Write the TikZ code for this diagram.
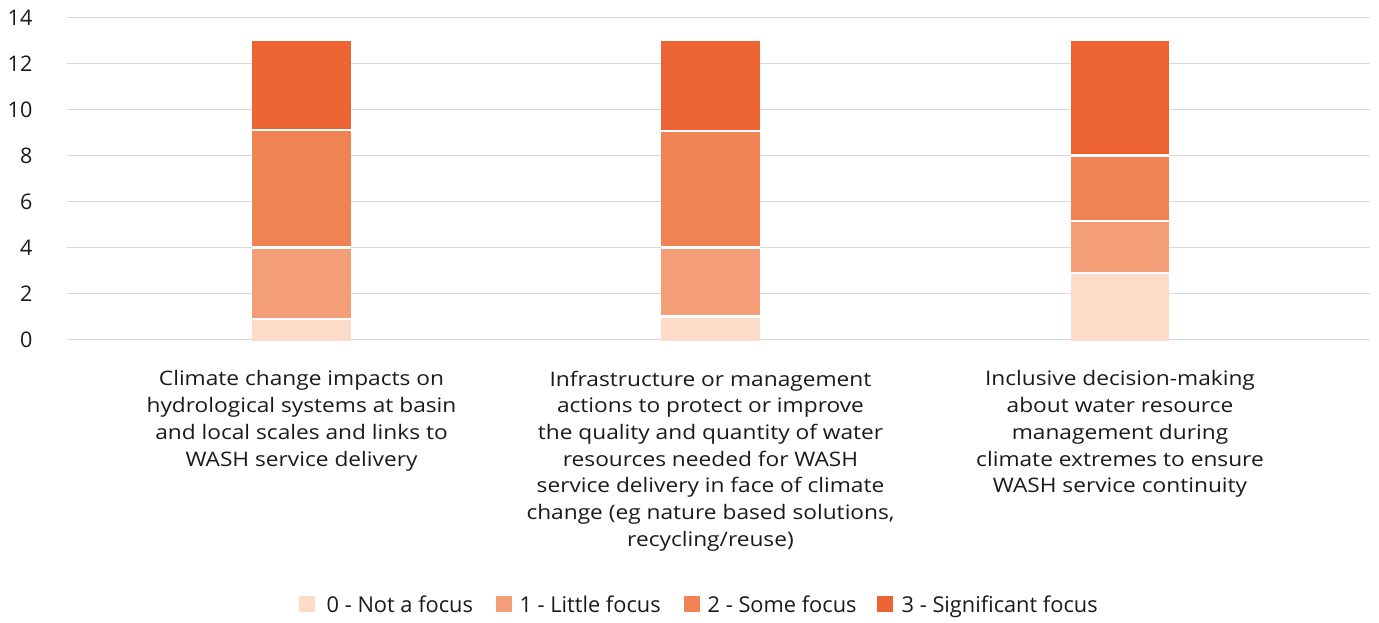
\documentclass[tikz,border=0pt]{standalone}
\usepackage{fontspec}
\setmainfont{Open Sans}
\newfontfamily\catfont{Open Sans}[FakeStretch=1.135]
\definecolor{cz}{HTML}{FCDCC8}
\definecolor{co}{HTML}{F39E76}
\definecolor{ct}{HTML}{EF8354}
\definecolor{cth}{HTML}{EC6432}
\definecolor{gridc}{HTML}{D9D9D9}
\definecolor{txt}{HTML}{1A1A1A}
\tikzset{
  gridline/.style={draw=gridc, line width=1.4pt},
  ticklab/.style={anchor=east, inner sep=0pt, font=\fontsize{21.5}{24}\selectfont, text=txt},
  catlab/.style={anchor=north, inner sep=0pt, align=center, font=\catfont\fontsize{20}{26.7}\selectfont, text=txt},
  legsq/.style={minimum width=16pt, minimum height=15.5pt, inner sep=0pt},
  leglab/.style={anchor=base west, inner sep=0pt, font=\fontsize{21.8}{24}\selectfont, text=txt},
}
\newcommand\stackbar[7]{%
  \fill[cz]  (#1,340.5) rectangle (#2,#3);
  \fill[co]  (#1,#3) rectangle (#2,#4);
  \fill[ct]  (#1,#4) rectangle (#2,#5);
  \fill[cth] (#1,#5) rectangle (#2,#6);
  \draw[white, line width=2.2pt] (#1,#3) -- (#2,#3) (#1,#4) -- (#2,#4) (#1,#5) -- (#2,#5);
  \coordinate (#7) at ({(#1+#2)/2},339.5);
}
\begin{document}
\begin{tikzpicture}[x=1pt,y=-1pt]
\useasboundingbox (0,0) rectangle (1379,622);
% grid and ticks
\foreach \v/\yy in {0/339.5,2/293.5,4/247.5,6/201.5,8/155.5,10/109.5,12/63.5,14/17.5}{
  \draw[gridline] (67,\yy) -- (1370,\yy);
  \node[ticklab] (t\v) at (32.5,\yy) {\v};
}
\stackbar{252}{351}{318.8}{247.5}{130.2}{40.5}{b1}
\stackbar{661}{760}{316.5}{247.5}{131.3}{40.5}{b2}
\stackbar{1071}{1169}{272.8}{221.0}{155.5}{40.5}{b3}
% category labels
\node[catlab] (c1) at (301.5,370.5) {Climate change impacts on\\hydrological systems at basin\\and local scales and links to\\WASH service delivery};
\node[catlab] (c2) at (710.5,370.5) {Infrastructure or management\\actions to protect or improve\\the quality and quantity of water\\resources needed for WASH\\service delivery in face of climate\\change (eg nature based solutions,\\recycling/reuse)};
\node[catlab] (c3) at (1120,370.5) {Inclusive decision-making\\about water resource\\management during\\climate extremes to ensure\\WASH service continuity};
% legend
\node[legsq, fill=cz]  (l0) at (306.7,604) {};
\node[leglab] (lt0) at (326.5,612.5) {0 - Not a focus};
\node[legsq, fill=co]  (l1) at (503.7,604) {};
\node[leglab] (lt1) at (519.3,612.5) {1 - Little focus};
\node[legsq, fill=ct]  (l2) at (691.7,604) {};
\node[leglab] (lt2) at (707.5,612.5) {2 - Some focus};
\node[legsq, fill=cth] (l3) at (884.7,604) {};
\node[leglab] (lt3) at (901.5,612.5) {3 - Significant focus};
\end{tikzpicture}
\end{document}
